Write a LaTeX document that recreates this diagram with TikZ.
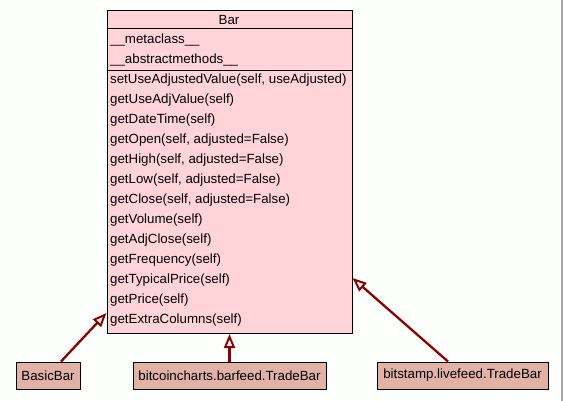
\documentclass[tikz,border=0pt]{standalone}
\usepackage{fontspec}
\setmainfont{Liberation Sans}
\usetikzlibrary{arrows.meta}
\definecolor{barfill}{HTML}{FFD4D8}
\definecolor{subfill}{HTML}{E2B2A6}
\definecolor{arrowred}{HTML}{8B0000}
\definecolor{bgcol}{HTML}{FCFFFC}
\tikzset{
  classbox/.style={draw=black, line width=1pt, fill=barfill, rectangle, inner sep=0pt, anchor=north west},
  subbox/.style={draw=black, line width=1pt, fill=subfill, rectangle, inner sep=0pt, minimum height=27pt, font=\fontsize{13.3}{15}\selectfont},
  member/.style={anchor=west, inner sep=0pt, font=\fontsize{13.3}{15}\selectfont},
  sepline/.style={draw=black, line width=1pt},
  inh/.style={draw=arrowred, line width=2.3pt, -{Triangle[open, length=14pt, width=11pt, line width=2pt]}}
}
\begin{document}
\begin{tikzpicture}[x=1pt, y=-1pt]
\useasboundingbox (0,0) rectangle (563,401);
\fill[bgcol] (0,0) rectangle (563,401);
\draw[gray!70, line width=1.5pt] (562.2,0) -- (562.2,401);
% main class
\node[classbox, minimum width=245pt, minimum height=322.5pt] (bar) at (106.5,10.5) {};
\draw[sepline] (106.5,28.5) -- (351.5,28.5);
\draw[sepline] (106.5,70.5) -- (351.5,70.5);
\node[inner sep=0pt, font=\fontsize{13.3}{15}\selectfont] (title) at (229,19.5) {Bar};
\node[member] (a1) at (110,40) {\_\_metaclass\_\_};
\node[member] (a2) at (110,60) {\_\_abstractmethods\_\_};
\node[member] (m1) at (110,80) {setUseAdjustedValue(self, useAdjusted)};
\node[member] (m2) at (110,100) {getUseAdjValue(self)};
\node[member] (m3) at (110,120) {getDateTime(self)};
\node[member] (m4) at (110,140) {getOpen(self, adjusted=False)};
\node[member] (m5) at (110,160) {getHigh(self, adjusted=False)};
\node[member] (m6) at (110,180) {getLow(self, adjusted=False)};
\node[member] (m7) at (110,200) {getClose(self, adjusted=False)};
\node[member] (m8) at (110,220) {getVolume(self)};
\node[member] (m9) at (110,240) {getAdjClose(self)};
\node[member] (m10) at (110,260) {getFrequency(self)};
\node[member] (m11) at (110,280) {getTypicalPrice(self)};
\node[member] (m12) at (110,300) {getPrice(self)};
\node[member] (m13) at (110,320) {getExtraColumns(self)};
% subclasses
\node[subbox, minimum width=64pt] (basic) at (48,375.5) {BasicBar};
\node[subbox, minimum width=193pt] (btc) at (229.5,375.5) {bitcoincharts.barfeed.TradeBar};
\node[subbox, minimum width=171pt] (bts) at (462.5,375.5) {bitstamp.livefeed.TradeBar};
% inheritance arrows
\draw[inh] ([xshift=13pt]basic.north) -- ([yshift=21pt]bar.south west);
\draw[inh] (btc.north) -- (btc.north |- bar.south);
\draw[inh] ([xshift=-14.5pt]bts.north) -- ([yshift=56pt]bar.south east);
\end{tikzpicture}
\end{document}
